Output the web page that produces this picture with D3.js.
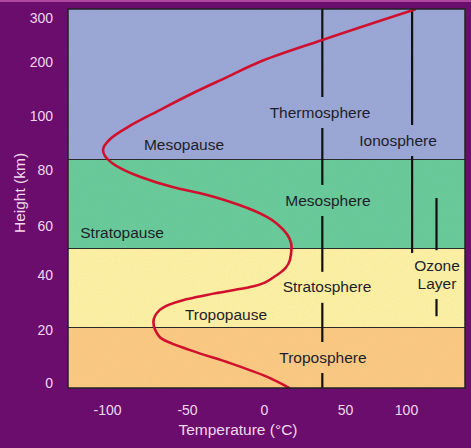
<!DOCTYPE html>
<html>
<head>
<meta charset="utf-8">
<script src="https://cdn.jsdelivr.net/npm/d3@7"></script>
<style>
  body { margin: 0; background: #6b0d6c; }
  svg { display: block; font-family: "Liberation Sans", Arial, sans-serif; }
</style>
</head>
<body>
<svg id="chart" width="471" height="448"></svg>
<script>
// temperature profile (deg C vs km)
var profileTemp   = [16, 2, -22, -48, -67, -71, -67, -52, -30, -9, 8, 16, 17, 12, 2, -16, -37, -59, -79, -96.9, -102.5, -98, -87, -67, -46, -24, -3, 36, 108];
var profileHeight = [-2, 2.3, 7.5, 12.4, 17.3, 22.9, 27.3, 30.9, 33.5, 35.6, 40, 46.1, 51.4, 58.4, 63.2, 67.5, 71.1, 73.9, 77.5, 82.6, 87.4, 91.5, 95.9, 111, 142.6, 172, 200, 250, 320];

// atmosphere layers (km)
var layerNames  = ["Troposphere", "Stratosphere", "Mesosphere", "Thermosphere"];
var layerBottom = [-5, 21, 51, 84];
var layerTop    = [21, 51, 84, 330];

// axis ticks
var heightTicks = [0, 20, 40, 60, 80, 100, 200, 300];
var tempTicks   = [-100, -50, 0, 50, 100];

// text labels on the chart
var labelText   = ["Thermosphere", "Ionosphere", "Mesosphere", "Stratosphere", "Troposphere", "Ozone", "Layer", "Mesopause", "Stratopause", "Tropopause"];
var labelTemp   = [34.6, 93.5, 39.5, 38.9, 36.4, 125.4, 125.4, -51.9, -90.6, -24.7];
var labelHeight = [107.4, 91.1, 69.3, 35.7, 9.8, 44.0, 37.1, 89.3, 57.5, 25.8];

// vertical marker lines, and which labels break them
var dividerTemp   = [36, 105, 125];
var dividerTop    = [330, 330, 70];
var dividerBottom = [-5, 49, 25];
var dividerGaps   = [[0, 2, 3, 4], [1], [5, 6]];

var layerColors = ["#fbc880", "#fdf0a2", "#66c998", "#99a5d5"];

var svg = d3.select("#chart"),
    margin = {top: 9, right: 6, bottom: 60, left: 68},
    width = +svg.attr("width") - margin.left - margin.right,
    height = +svg.attr("height") - margin.top - margin.bottom;

// grain like the scanned original
var noise = svg.append("defs").append("filter").attr("id", "grain")
    .attr("x", 0).attr("y", 0).attr("width", "100%").attr("height", "100%");
noise.append("feTurbulence").attr("type", "fractalNoise").attr("baseFrequency", 0.9).attr("numOctaves", 1).attr("seed", 3);
noise.append("feColorMatrix").attr("type", "matrix")
    .attr("values", "0 0 0 0 0.5  0 0 0 0 0.5  0 0 0 0 0.5  0 0 0 0.9 -0.35");

// top highlight strip of the frame
svg.append("rect").attr("width", 471).attr("height", 2).attr("fill", "#b0489f");

var g = svg.append("g").attr("transform", "translate(" + margin.left + "," + margin.top + ")");

// the original axes are not evenly spaced, so piecewise scales
var x = d3.scaleLinear()
    .domain(tempTicks)
    .range([39, 119, 196, 277, 338]);
var y = d3.scaleLinear()
    .domain(heightTicks)
    .range([374, 321, 266, 217, 161, 107, 53, 9]);

g.append("clipPath").attr("id", "plotClip")
  .append("rect").attr("width", width).attr("height", height);

var plot = g.append("g").attr("clip-path", "url(#plotClip)");

plot.selectAll(".layer")
    .data(layerNames)
  .enter().append("rect")
    .attr("class", "layer")
    .attr("x", 0)
    .attr("width", width)
    .attr("y", function(d, i) { return y(layerTop[i]); })
    .attr("height", function(d, i) { return y(layerBottom[i]) - y(layerTop[i]); })
    .attr("fill", function(d, i) { return layerColors[i]; });

plot.append("rect")
    .attr("width", width).attr("height", height)
    .attr("filter", "url(#grain)")
    .attr("opacity", 0.35);

// boundaries between layers
plot.selectAll(".boundary")
    .data(layerBottom.slice(1))
  .enter().append("line")
    .attr("class", "boundary")
    .attr("x1", 0).attr("x2", width)
    .attr("y1", function(d) { return Math.round(y(d)) + 0.5; })
    .attr("y2", function(d) { return Math.round(y(d)) + 0.5; })
    .attr("stroke", "#2a2a2a")
    .attr("stroke-width", 1.2);

// vertical lines, broken around their labels
dividerTemp.forEach(function(t, i) {
    var gaps = dividerGaps[i].map(function(k) {
        var cy = y(labelHeight[k]);
        return [cy - 15, cy + 16];
    }).sort(function(a, b) { return a[0] - b[0]; });
    var merged = [];
    gaps.forEach(function(gp) {
        var last = merged[merged.length - 1];
        if (last && gp[0] <= last[1]) last[1] = Math.max(last[1], gp[1]);
        else merged.push(gp.slice());
    });
    var segs = [], start = y(dividerTop[i]);
    merged.forEach(function(gp) {
        segs.push([start, gp[0]]);
        start = gp[1];
    });
    segs.push([start, y(dividerBottom[i])]);
    plot.selectAll(".div" + i)
        .data(segs)
      .enter().append("line")
        .attr("class", "div" + i)
        .attr("x1", x(t)).attr("x2", x(t))
        .attr("y1", function(d) { return d[0]; })
        .attr("y2", function(d) { return d[1]; })
        .attr("stroke", "#111")
        .attr("stroke-width", 2.2);
});

// height only goes up, so a monotone-in-y curve keeps the turns round
var line = d3.line()
    .x(function(d, i) { return x(profileTemp[i]); })
    .y(function(d, i) { return y(profileHeight[i]); })
    .curve(d3.curveMonotoneY);

plot.append("path")
    .datum(profileTemp)
    .attr("d", line)
    .attr("fill", "none")
    .attr("stroke", "#d0102c")
    .attr("stroke-width", 2.6);

plot.selectAll(".label")
    .data(labelText)
  .enter().append("text")
    .attr("class", "label")
    .attr("x", function(d, i) { return x(labelTemp[i]); })
    .attr("y", function(d, i) { return y(labelHeight[i]); })
    .attr("dy", "0.36em")
    .attr("text-anchor", "middle")
    .attr("font-size", "15.5px")
    .attr("fill", "#1e1e2a")
    .text(function(d) { return d; });

g.append("rect")
    .attr("width", width)
    .attr("height", height)
    .attr("fill", "none")
    .attr("stroke", "#222")
    .attr("stroke-width", 1.5);

// axes
var plain = function(d) { return String(d); };
var yAxis = g.append("g")
    .call(d3.axisLeft(y).tickValues(heightTicks).tickFormat(plain).tickSize(0).tickPadding(15));
var xAxis = g.append("g")
    .attr("transform", "translate(0," + height + ")")
    .call(d3.axisBottom(x).tickValues(tempTicks).tickFormat(plain).tickSize(0).tickPadding(17));

[yAxis, xAxis].forEach(function(a) {
    a.select(".domain").remove();
    a.selectAll("text")
        .attr("fill", "#f0d8ee")
        .attr("font-size", "14px")
        .attr("font-family", "Liberation Sans, Arial, sans-serif");
});

svg.append("text")
    .attr("x", 238)
    .attr("y", 435)
    .attr("text-anchor", "middle")
    .attr("font-size", "15.5px")
    .attr("fill", "#f0d8ee")
    .text("Temperature (\u00B0C)");

svg.append("text")
    .attr("transform", "translate(25,193) rotate(-90)")
    .attr("text-anchor", "middle")
    .attr("font-size", "15.5px")
    .attr("fill", "#f0d8ee")
    .text("Height (km)");
</script>
</body>
</html>
